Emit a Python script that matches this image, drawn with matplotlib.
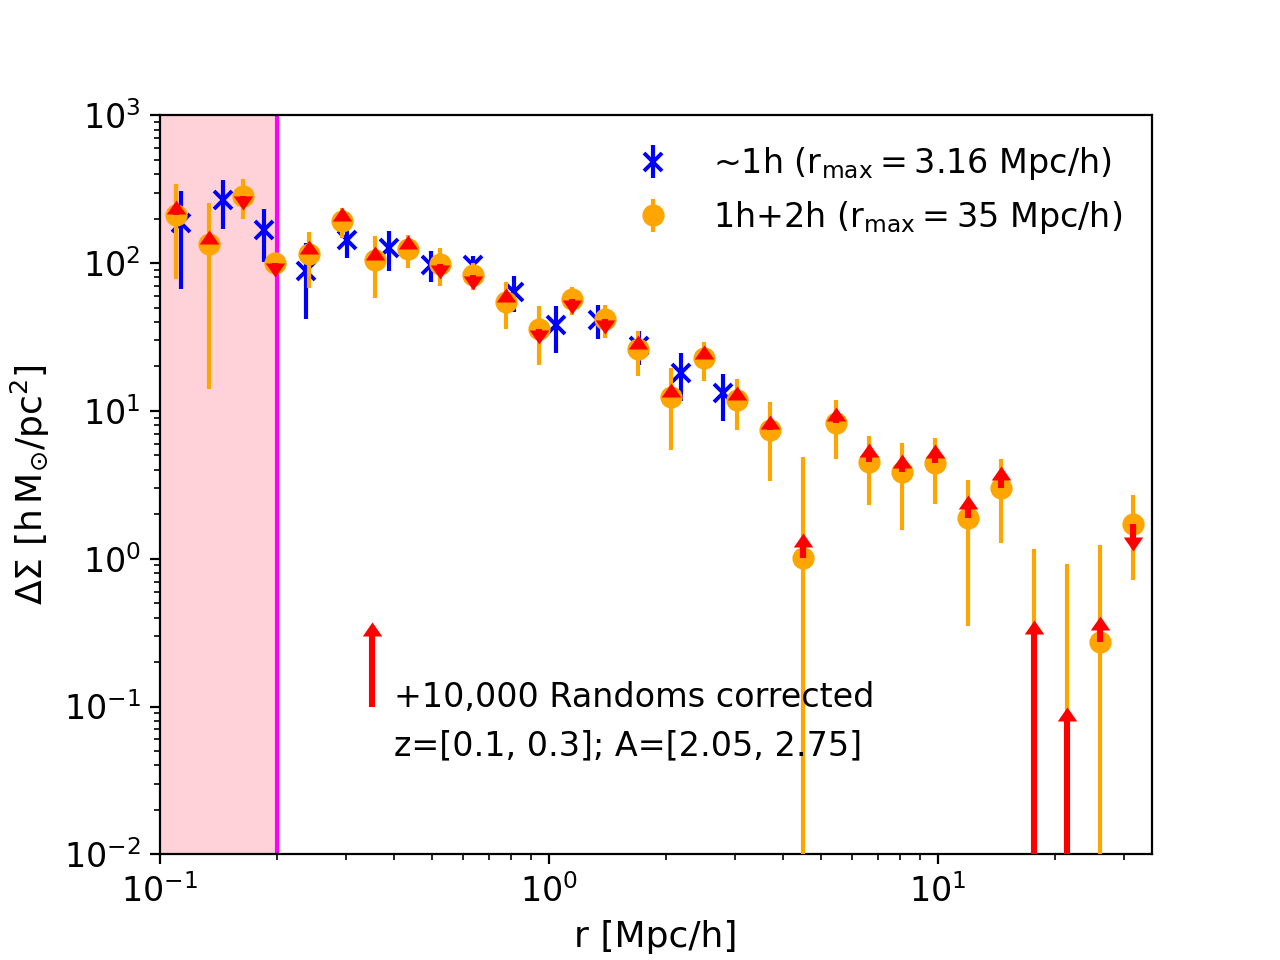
import numpy as np
import matplotlib
matplotlib.use("Agg")
import matplotlib.pyplot as plt
from matplotlib.path import Path

# ---------------- data ----------------
# 1h+2h measurement (r_max = 35 Mpc/h)
r_2h = [0.110, 0.134, 0.163, 0.198, 0.241, 0.293, 0.356, 0.433, 0.526, 0.639,
        0.777, 0.945, 1.148, 1.396, 1.697, 2.063, 2.507, 3.048, 3.706, 4.505,
        5.476, 6.657, 8.091, 9.835, 11.96, 14.53, 17.67, 21.48, 26.11, 31.74]
ds_2h = [211, 134, 285, 99.8, 115, 191, 105, 124, 98.3, 82.8,
         54.9, 35.8, 57.0, 41.7, 26.1, 12.5, 22.7, 11.9, 7.47, 1.01,
         8.33, 4.54, 3.83, 4.47, 1.88, 3.00, -0.40, -0.50, 0.275, 1.71]
err_2h = [133, 120, 86, 8, 47, 44, 47, 31, 28, 17.5,
          19, 15.5, 12.3, 10.5, 8.8, 7.1, 6.7, 4.5, 4.1, 3.9,
          3.6, 2.23, 2.27, 2.13, 1.53, 1.73, 1.565, 1.42, 0.965, 0.99]
# randoms-corrected values (arrow targets)
ds_corr = [238, 150, 256, 89.5, 128, 213, 117, 139, 87.2, 73.1,
           60.9, 31.4, 50.4, 36.9, 29.2, 13.9, 25.2, 13.2, 8.40, 1.34,
           9.47, 5.45, 4.59, 5.36, 2.42, 3.78, 0.345, 0.089, 0.368, 1.26]

# ~1h measurement (r_max = 3.16 Mpc/h)
r_1h = [0.113, 0.145, 0.185, 0.237, 0.303, 0.388, 0.497, 0.636, 0.814, 1.042,
        1.334, 1.707, 2.184, 2.796]
ds_1h = [186, 268, 167, 88.7, 144, 127, 97.5, 97.2, 63.8, 38.0,
         41.4, 27.5, 18.1, 13.2]
err_1h = [119, 97, 65, 47, 36, 38, 22.5, 14, 17.4, 13.2,
          10.7, 7.0, 6.5, 4.6]

# key arrow
key_r = 0.35
key_lo = 0.1
key_hi = 0.335

r_cut = 0.2
r_min = 0.1
x_lim = (0.1, 35.5)
y_lim = (1e-2, 1e3)

label_1h = r'~1h ($\rm r_{max} = 3.16$ Mpc/h)'
label_2h = r'1h+2h ($\rm r_{max} = 35$ Mpc/h)'
note_1 = "+10,000 Randoms corrected"
note_2 = "z=[0.1, 0.3]; A=[2.05, 2.75]"

# ---------------- plot ----------------
plt.rcParams['font.size'] = 12
fig, ax = plt.subplots(figsize=(6.4, 4.8), dpi=200)
ax.set_xscale('log')
ax.set_yscale('log')

ax.axvspan(r_min, r_cut, color='pink', alpha=0.7, lw=0, zorder=0)
ax.axvline(r_cut, color='magenta', lw=1.5, zorder=1)

ax.errorbar(r_1h, ds_1h, yerr=err_1h, fmt='x', color='blue', ms=6.5, mew=1.4,
            elinewidth=1.5, capsize=0, zorder=2, label=label_1h)
ax.errorbar(r_2h, ds_2h, yerr=err_2h, fmt='o', color='orange', ms=7,
            elinewidth=1.5, capsize=0, zorder=3, label=label_2h)

up = Path([(-1, -0.72), (1, -0.72), (0, 0.72), (-1, -0.72)],
          [Path.MOVETO, Path.LINETO, Path.LINETO, Path.CLOSEPOLY])
down = Path([(-1, 0.72), (1, 0.72), (0, -0.72), (-1, 0.72)],
            [Path.MOVETO, Path.LINETO, Path.LINETO, Path.CLOSEPOLY])

r2 = np.array(r_2h)
y0 = np.array(ds_2h, dtype=float)
y1 = np.array(ds_corr, dtype=float)
y0c = np.where(y0 > 0, y0, y_lim[0] * 0.1)
ax.vlines(r2, y0c, y1, color='red', lw=2.2, zorder=4)
goes_up = y1 >= y0
ax.plot(r2[goes_up], y1[goes_up], ls='none', marker=up, ms=7,
        color='red', mec='red', mew=0, zorder=5)
ax.plot(r2[~goes_up], y1[~goes_up], ls='none', marker=down, ms=7,
        color='red', mec='red', mew=0, zorder=5)

# key arrow
ax.vlines([key_r], [key_lo], [key_hi], color='red', lw=2.2, zorder=4)
ax.plot([key_r], [key_hi], ls='none', marker=up, ms=7, color='red',
        mew=0, zorder=5)
ax.text(0.4, 0.1, note_1, fontsize=12)
ax.text(0.4, 0.047, note_2, fontsize=12)

ax.set_xlim(*x_lim)
ax.set_ylim(*y_lim)
ax.set_xlabel('r [Mpc/h]', fontsize=13)
ax.set_ylabel(r'$\Delta\Sigma$ [$\rm h\,M_{\odot}/pc^2$]', fontsize=13)
ax.legend(loc='upper right', frameon=False, fontsize=12)

fig.savefig('out.png', dpi=200)
